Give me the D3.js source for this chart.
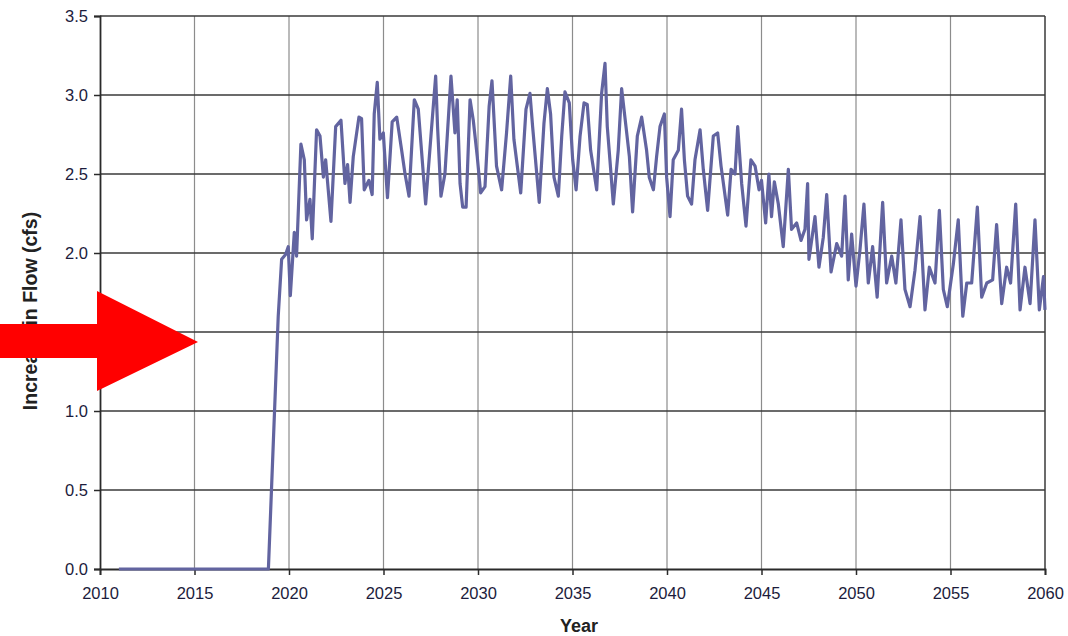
<!DOCTYPE html>
<html>
<head>
<meta charset="utf-8">
<script src="https://cdn.jsdelivr.net/npm/d3@7"></script>
<style>
  body { margin: 0; background: #fff; }
  svg { display: block; }
</style>
</head>
<body>
<svg id="chart" width="1068" height="636"></svg>
<script>
// tick values
const xTicks = [2010, 2015, 2020, 2025, 2030, 2035, 2040, 2045, 2050, 2055, 2060];
const yTicks = [0, 0.5, 1.0, 1.5, 2.0, 2.5, 3.0, 3.5];

// flow series (decimal year, cfs)
const years = [
  2011, 2018.91, 2019.43, 2019.61, 2019.82, 2019.96, 2020.07, 2020.28, 2020.40, 2020.63,
  2020.81, 2020.93, 2021.11, 2021.23, 2021.46, 2021.64, 2021.82, 2021.94, 2022.22, 2022.47,
  2022.75, 2022.96, 2023.10, 2023.23, 2023.40, 2023.70, 2023.84, 2023.98, 2024.23, 2024.40,
  2024.51, 2024.67, 2024.81, 2024.99, 2025.21, 2025.46, 2025.70, 2025.96, 2026.14, 2026.35,
  2026.63, 2026.84, 2027.01, 2027.23, 2027.51, 2027.76, 2027.86, 2028.04, 2028.25, 2028.57,
  2028.78, 2028.90, 2029.05, 2029.19, 2029.37, 2029.58, 2029.75, 2029.96, 2030.14, 2030.37,
  2030.59, 2030.74, 2030.98, 2031.25, 2031.51, 2031.73, 2031.90, 2032.26, 2032.54, 2032.75,
  2032.89, 2033.24, 2033.49, 2033.67, 2033.84, 2034.02, 2034.25, 2034.43, 2034.60, 2034.83,
  2035.01, 2035.19, 2035.40, 2035.61, 2035.78, 2035.96, 2036.28, 2036.54, 2036.72, 2036.84,
  2036.98, 2037.16, 2037.42, 2037.60, 2037.83, 2038.01, 2038.18, 2038.43, 2038.66, 2038.92,
  2039.06, 2039.28, 2039.45, 2039.63, 2039.86, 2039.98, 2040.16, 2040.33, 2040.60, 2040.77,
  2040.92, 2041.09, 2041.30, 2041.48, 2041.75, 2041.92, 2042.15, 2042.45, 2042.68, 2042.86,
  2043.21, 2043.39, 2043.60, 2043.74, 2043.95, 2044.18, 2044.44, 2044.66, 2044.87, 2045.00,
  2045.22, 2045.39, 2045.53, 2045.68, 2045.89, 2046.15, 2046.42, 2046.59, 2046.86, 2047.09,
  2047.30, 2047.44, 2047.51, 2047.83, 2048.04, 2048.27, 2048.45, 2048.68, 2048.98, 2049.24,
  2049.42, 2049.59, 2049.77, 2050.00, 2050.21, 2050.42, 2050.65, 2050.88, 2051.12, 2051.41,
  2051.62, 2051.89, 2052.11, 2052.38, 2052.59, 2052.86, 2053.12, 2053.39, 2053.65, 2053.88,
  2054.18, 2054.41, 2054.62, 2054.83, 2055.15, 2055.41, 2055.65, 2055.86, 2056.12, 2056.42,
  2056.65, 2056.92, 2057.23, 2057.44, 2057.71, 2057.97, 2058.18, 2058.45, 2058.68, 2058.94,
  2059.21, 2059.47, 2059.70, 2059.92, 2060
];
const flow = [
  0, 0, 1.60, 1.96, 1.99, 2.04, 1.73, 2.13, 1.98, 2.69,
  2.59, 2.21, 2.34, 2.09, 2.78, 2.74, 2.48, 2.59, 2.20, 2.80,
  2.84, 2.44, 2.56, 2.32, 2.61, 2.86, 2.85, 2.40, 2.46, 2.37,
  2.88, 3.08, 2.72, 2.76, 2.35, 2.83, 2.86, 2.65, 2.50, 2.36,
  2.97, 2.91, 2.65, 2.31, 2.74, 3.12, 2.80, 2.36, 2.50, 3.12,
  2.76, 2.97, 2.44, 2.29, 2.29, 2.97, 2.84, 2.61, 2.38, 2.42,
  2.93, 3.09, 2.55, 2.40, 2.76, 3.12, 2.72, 2.38, 2.91, 3.01,
  2.80, 2.32, 2.82, 3.04, 2.88, 2.48, 2.36, 2.74, 3.02, 2.95,
  2.59, 2.40, 2.74, 2.95, 2.94, 2.65, 2.40, 3.01, 3.20, 2.80,
  2.59, 2.31, 2.65, 3.04, 2.80, 2.61, 2.26, 2.74, 2.86, 2.65,
  2.48, 2.40, 2.61, 2.80, 2.88, 2.48, 2.23, 2.59, 2.65, 2.91,
  2.59, 2.36, 2.31, 2.59, 2.78, 2.53, 2.27, 2.74, 2.76, 2.55,
  2.24, 2.53, 2.50, 2.80, 2.44, 2.17, 2.59, 2.55, 2.40, 2.46,
  2.19, 2.50, 2.23, 2.45, 2.31, 2.04, 2.53, 2.15, 2.19, 2.08,
  2.15, 2.44, 1.96, 2.23, 1.91, 2.10, 2.37, 1.88, 2.06, 1.98,
  2.36, 1.83, 2.12, 1.79, 2.02, 2.31, 1.81, 2.04, 1.72, 2.32,
  1.81, 1.98, 1.81, 2.21, 1.77, 1.66, 1.89, 2.23, 1.64, 1.91,
  1.81, 2.27, 1.77, 1.66, 1.93, 2.21, 1.60, 1.81, 1.81, 2.29,
  1.72, 1.81, 1.83, 2.18, 1.68, 1.91, 1.81, 2.31, 1.64, 1.91,
  1.68, 2.21, 1.64, 1.85, 1.64
];

const svg = d3.select("#chart");
const plotLeft = 100, plotRight = 1045, plotTop = 16, plotBottom = 569;
const font = "'Liberation Sans', Arial, sans-serif";

const x = d3.scaleLinear().domain([2010, 2060]).range([plotLeft, plotRight]);
const y = d3.scaleLinear().domain([0, 3.5]).range([plotBottom, plotTop]);

// vertical grid (light)
svg.append("g")
  .selectAll("line")
  .data(xTicks.slice(1, -1))
  .join("line")
  .attr("x1", d => x(d)).attr("x2", d => x(d))
  .attr("y1", plotTop).attr("y2", plotBottom)
  .attr("stroke", "#8c8c8c")
  .attr("stroke-width", 1.2);

// horizontal grid (dark)
svg.append("g")
  .selectAll("line")
  .data(yTicks.slice(1))
  .join("line")
  .attr("x1", plotLeft).attr("x2", plotRight)
  .attr("y1", d => y(d)).attr("y2", d => y(d))
  .attr("stroke", "#3a3a3a")
  .attr("stroke-width", 1.5);

// right border
svg.append("line")
  .attr("x1", plotRight).attr("x2", plotRight)
  .attr("y1", plotTop).attr("y2", plotBottom)
  .attr("stroke", "#3a3a3a").attr("stroke-width", 1.5);

// axes
const xAxis = svg.append("g")
  .attr("transform", `translate(0,${plotBottom})`)
  .call(d3.axisBottom(x).tickValues(xTicks).tickFormat(d3.format("d")).tickSize(6).tickPadding(12));
const yAxis = svg.append("g")
  .attr("transform", `translate(${plotLeft},0)`)
  .call(d3.axisLeft(y).tickValues(yTicks).tickFormat(d3.format(".1f")).tickSize(6).tickPadding(6));

[xAxis, yAxis].forEach(g => {
  g.select(".domain").attr("stroke", "#2a2a2a").attr("stroke-width", 1.8);
  g.selectAll(".tick line").attr("stroke", "#2a2a2a").attr("stroke-width", 1.5);
  g.selectAll(".tick text")
    .attr("font-family", font)
    .attr("font-size", 16.5)
    .attr("fill", "#1c1c3c");
});

// flow line
const points = years.map((yr, i) => [yr, flow[i]]);
svg.append("path")
  .datum(points)
  .attr("fill", "none")
  .attr("stroke", "#6264a0")
  .attr("stroke-width", 3.2)
  .attr("stroke-linejoin", "round")
  .attr("d", d3.line().x(d => x(d[0])).y(d => y(d[1])));

// axis titles
svg.append("text")
  .attr("x", 579)
  .attr("y", 632)
  .attr("text-anchor", "middle")
  .attr("font-family", font)
  .attr("font-size", 18)
  .attr("font-weight", "bold")
  .attr("fill", "#222")
  .text("Year");

svg.append("text")
  .attr("transform", "translate(37,311) rotate(-90)")
  .attr("text-anchor", "middle")
  .attr("font-family", font)
  .attr("font-size", 19.5)
  .attr("font-weight", "bold")
  .attr("fill", "#222")
  .text("Increase in Flow (cfs)");

// red arrow annotation
svg.append("path")
  .attr("d", "M0,324 L97,324 L97,291 L198,342 L97,391 L97,358 L0,358 Z")
  .attr("fill", "#ff0000");
</script>
</body>
</html>
